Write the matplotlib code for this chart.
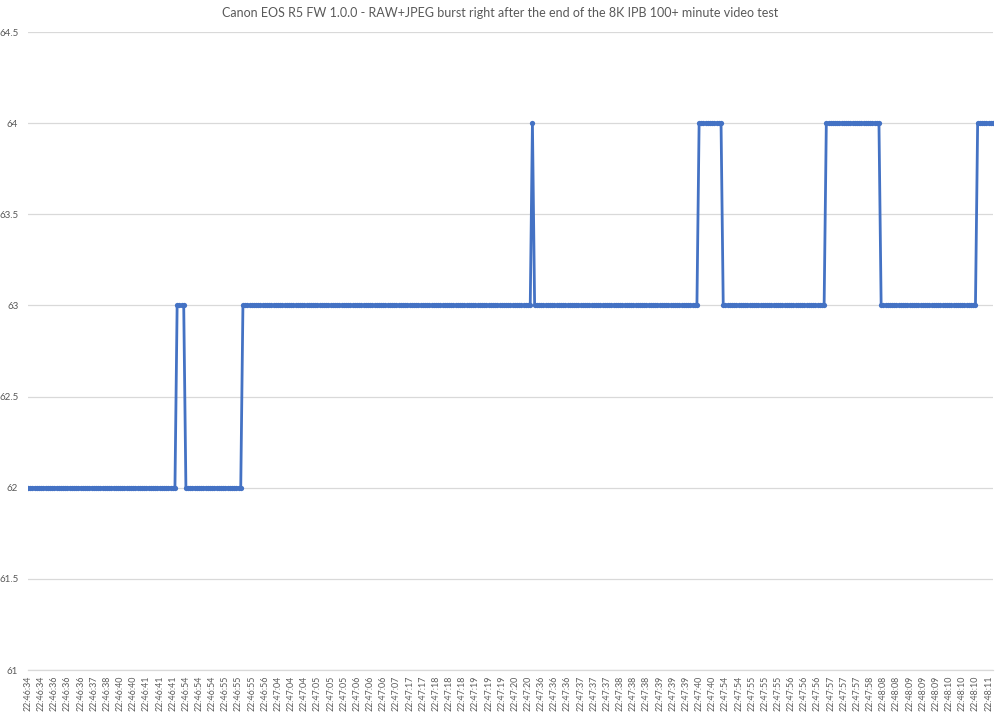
import matplotlib.pyplot as plt
import numpy as np

# data
title = "Canon EOS R5 FW 1.0.0 - RAW+JPEG burst right after the end of the 8K IPB 100+ minute video test"

# temperature level of each run and the number of samples in that run
run_levels = [62, 63, 62, 63, 64, 63, 64, 63, 64, 63, 64]
run_counts = [68, 4, 26, 132, 1, 75, 11, 47, 25, 44, 8]

# every 6th sample carries a visible label on the category axis
label_step = 6
tick_labels = [
    "22:46:34", "22:46:34", "22:46:36", "22:46:36", "22:46:36", "22:46:37",
    "22:46:38", "22:46:40", "22:46:40", "22:46:41", "22:46:41", "22:46:41",
    "22:46:54", "22:46:54", "22:46:54", "22:46:55", "22:46:55", "22:46:55",
    "22:46:56", "22:47:04", "22:47:04", "22:47:04", "22:47:05", "22:47:05",
    "22:47:05", "22:47:06", "22:47:06", "22:47:06", "22:47:07", "22:47:17",
    "22:47:17", "22:47:18", "22:47:18", "22:47:18", "22:47:19", "22:47:19",
    "22:47:19", "22:47:20", "22:47:20", "22:47:36", "22:47:36", "22:47:36",
    "22:47:37", "22:47:37", "22:47:37", "22:47:38", "22:47:38", "22:47:38",
    "22:47:39", "22:47:39", "22:47:39", "22:47:40", "22:47:40", "22:47:54",
    "22:47:54", "22:47:55", "22:47:55", "22:47:55", "22:47:56", "22:47:56",
    "22:47:56", "22:47:57", "22:47:57", "22:47:57", "22:47:58", "22:48:08",
    "22:48:08", "22:48:09", "22:48:09", "22:48:09", "22:48:10", "22:48:10",
    "22:48:10", "22:48:11",
]

y_ticks = [61, 61.5, 62, 62.5, 63, 63.5, 64, 64.5]
y_tick_labels = ["61", "61.5", "62", "62.5", "63", "63.5", "64", "64.5"]

line_color = "#4472C4"
grid_color = "#D9D9D9"
text_color = "#595959"

plt.rcParams["font.family"] = ["Lato", "DejaVu Sans"]

values = np.repeat(run_levels, run_counts)
x = np.arange(len(values))

fig = plt.figure(figsize=(10, 7.13), dpi=100)
ax = fig.add_axes([0.028, 0.0603, 0.965, 0.8948])

ax.plot(x, values, color=line_color, linewidth=2.0, marker="o",
        markersize=3.8, markeredgewidth=0, zorder=3)

ax.set_xlim(0, len(values) - 1)
ax.set_ylim(61, 64.5)

ax.set_yticks(y_ticks)
ax.set_yticklabels(y_tick_labels, fontsize=7, color=text_color)
ax.set_xticks(np.arange(len(tick_labels)) * label_step)
ax.set_xticklabels(tick_labels, rotation=90, fontsize=6.4, color=text_color)
ax.tick_params(axis="both", length=0)
ax.tick_params(axis="y", pad=7)
ax.tick_params(axis="x", pad=4)

ax.grid(axis="y", color=grid_color, linewidth=0.9)
ax.set_axisbelow(True)
for side in ["top", "right", "left"]:
    ax.spines[side].set_visible(False)
ax.spines["bottom"].set_color(grid_color)
ax.spines["bottom"].set_linewidth(0.9)

fig.text(0.5, 0.982, title, ha="center", va="center", fontsize=9,
         color=text_color)

fig.savefig("out.png", dpi=100)
